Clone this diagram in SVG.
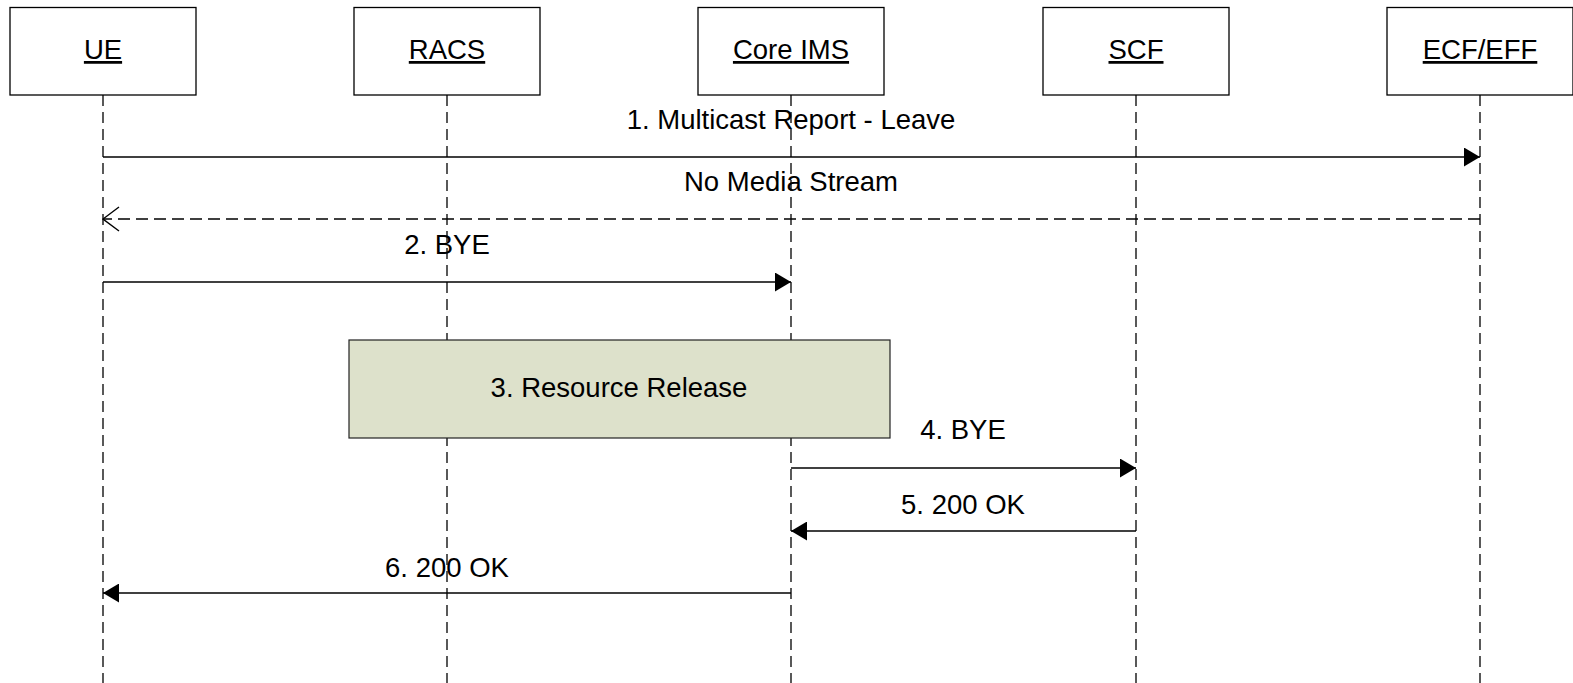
<svg xmlns="http://www.w3.org/2000/svg" width="1573" height="683" viewBox="0 0 1573 683">
<style>
.box{fill:#fff;stroke:#000;stroke-width:1.3}
.nl{font-family:"Liberation Sans",Arial,sans-serif;font-size:27.5px;fill:#000;text-anchor:middle;text-decoration:underline}
.t{font-family:"Liberation Sans",Arial,sans-serif;font-size:27.5px;fill:#000;text-anchor:middle}
.life{stroke:#000;stroke-width:1.3;stroke-dasharray:11 6;fill:none}
.msg{stroke:#000;stroke-width:1.4;fill:none}
.ret{stroke:#000;stroke-width:1.3;stroke-dasharray:12 6;fill:none}
</style>
<defs>
<marker id="ah" markerWidth="17" markerHeight="19" refX="16" refY="9.5" orient="auto" markerUnits="userSpaceOnUse">
<path d="M0,0 L16,9.5 L0,19 Z" fill="#000"/>
</marker>
<marker id="oa" markerWidth="18" markerHeight="26" refX="17" refY="13" orient="auto" markerUnits="userSpaceOnUse">
<path d="M1,1 L17,13 L1,25" fill="none" stroke="#000" stroke-width="1.4"/>
</marker>
</defs>
<g id="lifelines">
<line class="life" x1="103" y1="95" x2="103" y2="683"/>
<line class="life" x1="447" y1="95" x2="447" y2="683"/>
<line class="life" x1="791" y1="95" x2="791" y2="683"/>
<line class="life" x1="1136" y1="95" x2="1136" y2="683"/>
<line class="life" x1="1480" y1="95" x2="1480" y2="683"/>
</g>
<g id="UE"><rect class="box" x="10" y="7.5" width="186" height="87.5"/><text class="nl" x="103" y="59">UE</text></g>
<g id="RACS"><rect class="box" x="354" y="7.5" width="186" height="87.5"/><text class="nl" x="447" y="59">RACS</text></g>
<g id="CoreIMS"><rect class="box" x="698" y="7.5" width="186" height="87.5"/><text class="nl" x="791" y="59">Core IMS</text></g>
<g id="SCF"><rect class="box" x="1043" y="7.5" width="186" height="87.5"/><text class="nl" x="1136" y="59">SCF</text></g>
<g id="ECFEFF"><rect class="box" x="1387" y="7.5" width="186" height="87.5"/><text class="nl" x="1480" y="59">ECF/EFF</text></g>
<g id="ResourceRelease">
<rect x="349" y="340" width="541" height="98" fill="#dde1cb" stroke="#222" stroke-width="1.2"/>
<text class="t" x="619" y="397">3. Resource Release</text>
</g>
<g id="connectors">
<line class="msg" x1="103" y1="157" x2="1480" y2="157" marker-end="url(#ah)"/>
<text class="t" x="791" y="129">1. Multicast Report - Leave</text>
<line class="ret" x1="1480" y1="219" x2="103" y2="219" marker-end="url(#oa)"/>
<text class="t" x="791" y="191">No Media Stream</text>
<line class="msg" x1="103" y1="282" x2="791" y2="282" marker-end="url(#ah)"/>
<text class="t" x="447" y="254">2. BYE</text>
<line class="msg" x1="791" y1="468" x2="1136" y2="468" marker-end="url(#ah)"/>
<text class="t" x="963" y="439">4. BYE</text>
<line class="msg" x1="1136" y1="531" x2="791" y2="531" marker-end="url(#ah)"/>
<text class="t" x="963" y="514">5. 200 OK</text>
<line class="msg" x1="791" y1="593" x2="103" y2="593" marker-end="url(#ah)"/>
<text class="t" x="447" y="577">6. 200 OK</text>
</g>
</svg>
